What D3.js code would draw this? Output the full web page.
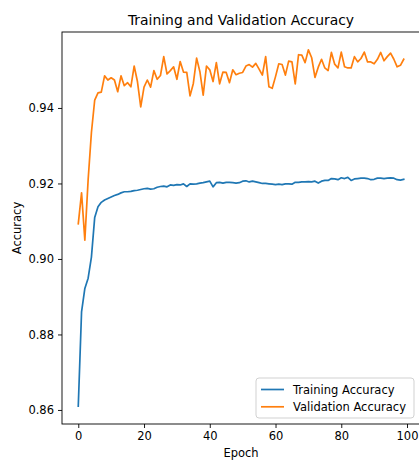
<!DOCTYPE html>
<html>
<head>
<meta charset="utf-8">
<script src="https://cdnjs.cloudflare.com/ajax/libs/d3/7.8.5/d3.min.js"></script>
<style>
body { margin: 0; background: white; }
svg { display: block; font-family: "DejaVu Sans", sans-serif; }
</style>
</head>
<body>
<svg width="419" height="462"></svg>
<script>
// data
var epochs = d3.range(0, 100);
var trainAcc = [
  0.8610, 0.8860, 0.8922, 0.8949, 0.9005, 0.9110, 0.9138, 0.9150, 0.9156, 0.9160,
  0.9164, 0.9168, 0.9171, 0.9175, 0.9178, 0.9178, 0.9179, 0.9181, 0.9182, 0.9184,
  0.9186, 0.9187, 0.9185, 0.9186, 0.9190, 0.9192, 0.9193, 0.9191, 0.9196, 0.9195,
  0.9197, 0.9196, 0.9199, 0.9192, 0.9199, 0.9198, 0.9199, 0.9201, 0.9202, 0.9204,
  0.9206, 0.9191, 0.9202, 0.9203, 0.9201, 0.9203, 0.9203, 0.9202, 0.9201, 0.9202,
  0.9206, 0.9207, 0.9204, 0.9206, 0.9204, 0.9202, 0.9200, 0.9200, 0.9199, 0.9198,
  0.9197, 0.9198, 0.9197, 0.9199, 0.9199, 0.9198, 0.9203, 0.9203, 0.9204, 0.9204,
  0.9205, 0.9204, 0.9206, 0.9201, 0.9206, 0.9208, 0.9208, 0.9213, 0.9212, 0.9210,
  0.9215, 0.9213, 0.9216, 0.9208, 0.9212, 0.9213, 0.9214, 0.9214, 0.9213, 0.9210,
  0.9211, 0.9214, 0.9214, 0.9213, 0.9214, 0.9215, 0.9214, 0.9210, 0.9209, 0.9211
];
var valAcc = [
  0.9093, 0.9175, 0.9050, 0.9210, 0.9335, 0.9421, 0.9440, 0.9442, 0.9485, 0.9474,
  0.9480, 0.9474, 0.9443, 0.9485, 0.9459, 0.9467, 0.9456, 0.9511, 0.9470, 0.9403,
  0.9455, 0.9474, 0.9455, 0.9499, 0.9476, 0.9486, 0.9536, 0.9490, 0.9499, 0.9509,
  0.9476, 0.9523, 0.9495, 0.9494, 0.9432, 0.9465, 0.9532, 0.9496, 0.9434, 0.9511,
  0.9501, 0.9470, 0.9520, 0.9464, 0.9495, 0.9494, 0.9467, 0.9501, 0.9488, 0.9492,
  0.9494, 0.9511, 0.9515, 0.9508, 0.9518, 0.9503, 0.9487, 0.9536, 0.9456, 0.9452,
  0.9483, 0.9517, 0.9515, 0.9487, 0.9524, 0.9522, 0.9464, 0.9541, 0.9540, 0.9520,
  0.9554, 0.9533, 0.9481, 0.9508, 0.9529, 0.9506, 0.9499, 0.9547, 0.9516, 0.9506,
  0.9548, 0.9509, 0.9506, 0.9506, 0.9536, 0.9522, 0.9531, 0.9548, 0.9522, 0.9522,
  0.9517, 0.9529, 0.9547, 0.9525, 0.9536, 0.9545, 0.9529, 0.9509, 0.9513, 0.9529
];
var xTicks = [0, 20, 40, 60, 80, 100];
var yTicks = [0.86, 0.88, 0.90, 0.92, 0.94];
var seriesNames = ["Training Accuracy", "Validation Accuracy"];
var seriesColors = ["#1f77b4", "#ff7f0e"];

var svg = d3.select("svg");
var plotL = 62, plotR = 420, plotT = 32, plotB = 424;
var fs = 11.5; // 10pt at this figure's dpi

// matplotlib style 5% margins
var xPad = (d3.max(epochs) - d3.min(epochs)) * 0.05;
var xScale = d3.scaleLinear()
  .domain([d3.min(epochs) - xPad, d3.max(epochs) + xPad])
  .range([plotL, plotR]);
var yMin = d3.min(trainAcc.concat(valAcc)), yMax = d3.max(trainAcc.concat(valAcc));
var yPad = (yMax - yMin) * 0.05;
var yScale = d3.scaleLinear()
  .domain([yMin - yPad, yMax + yPad])
  .range([plotB, plotT]);

// lines
var line = d3.line()
  .x(function(d, i) { return xScale(epochs[i]); })
  .y(function(d) { return yScale(d); });

[trainAcc, valAcc].forEach(function(s, k) {
  svg.append("path")
    .datum(s)
    .attr("d", line)
    .attr("fill", "none")
    .attr("stroke", seriesColors[k])
    .attr("stroke-width", 1.7)
    .attr("stroke-linejoin", "round")
    .attr("stroke-linecap", "square");
});

// frame
svg.append("rect")
  .attr("x", plotL).attr("y", plotT)
  .attr("width", plotR - plotL).attr("height", plotB - plotT)
  .attr("fill", "none")
  .attr("stroke", "black")
  .attr("stroke-width", 0.9);

// x axis
var xAxis = d3.axisBottom(xScale)
  .tickValues(xTicks)
  .tickSize(4)
  .tickPadding(4)
  .tickFormat(d3.format("d"));
var gx = svg.append("g")
  .attr("transform", "translate(0," + plotB + ")")
  .call(xAxis);
gx.select(".domain").remove();
gx.selectAll("line").attr("stroke", "black").attr("stroke-width", 0.9);
gx.selectAll("text")
  .attr("font-family", "DejaVu Sans")
  .attr("font-size", fs)
  .attr("fill", "black");

// y axis
var yAxis = d3.axisLeft(yScale)
  .tickValues(yTicks)
  .tickSize(4)
  .tickPadding(4)
  .tickFormat(d3.format(".2f"));
var gy = svg.append("g")
  .attr("transform", "translate(" + plotL + ",0)")
  .call(yAxis);
gy.select(".domain").remove();
gy.selectAll("line").attr("stroke", "black").attr("stroke-width", 0.9);
gy.selectAll("text")
  .attr("font-family", "DejaVu Sans")
  .attr("font-size", fs)
  .attr("fill", "black");

// title and axis labels
svg.append("text")
  .attr("x", (plotL + plotR) / 2)
  .attr("y", 25)
  .attr("text-anchor", "middle")
  .style("font-size", "13.9px")
  .text("Training and Validation Accuracy");

svg.append("text")
  .attr("x", (plotL + plotR) / 2)
  .attr("y", 457)
  .attr("text-anchor", "middle")
  .style("font-size", fs + "px")
  .text("Epoch");

svg.append("text")
  .attr("transform", "translate(21," + (plotT + plotB) / 2 + ") rotate(-90)")
  .attr("text-anchor", "middle")
  .style("font-size", fs + "px")
  .text("Accuracy");

// legend
var lg = svg.append("g");
lg.append("rect")
  .attr("x", 256).attr("y", 378)
  .attr("width", 158).attr("height", 40)
  .attr("rx", 3)
  .attr("fill", "white")
  .attr("fill-opacity", 0.8)
  .attr("stroke", "#cccccc")
  .attr("stroke-width", 0.9);

seriesNames.forEach(function(name, k) {
  var yy = 389.5 + k * 17.3;
  lg.append("line")
    .attr("x1", 261).attr("x2", 284)
    .attr("y1", yy).attr("y2", yy)
    .attr("stroke", seriesColors[k])
    .attr("stroke-width", 1.7);
  lg.append("text")
    .attr("x", 293)
    .attr("y", yy + 4.2)
    .style("font-size", fs + "px")
    .text(name);
});
</script>
</body>
</html>
